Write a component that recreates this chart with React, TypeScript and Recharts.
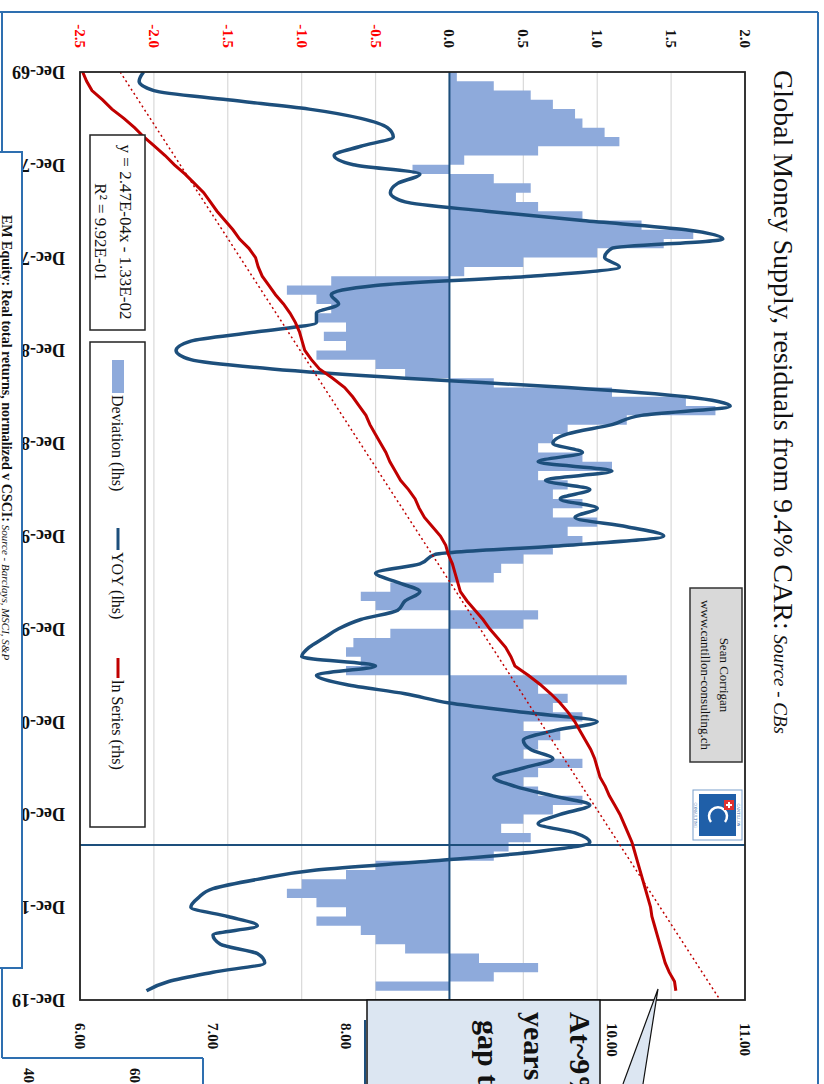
import React from 'react';
import { ComposedChart, Area, Line, XAxis, YAxis, CartesianGrid, ReferenceLine } from 'recharts';

// half-yearly observations, first one at Dec-69
const START = 1969.917;
const STEP = 0.5;
const END = 2019.917;

const yoy = [
  -2.07, -2.1, -2.0, -1.5, -0.95, -0.6, -0.42, -0.38, -0.6, -0.78,
  -0.65, -0.2, -0.35, -0.4, -0.3, 0.25, 0.9, 1.6, 1.85, 1.1,
  1.05, 1.15, 0.55, -0.5, -0.8, -0.75, -0.9, -0.9, -1.3, -1.75,
  -1.85, -1.75, -1.2, -0.3, 0.8, 1.6, 1.9, 1.3, 1.1, 0.8,
  0.7, 0.9, 0.6, 1.1, 0.65, 0.95, 0.75, 1.0, 0.85, 1.2,
  1.45, 0.8, -0.1, -0.2, -0.5, -0.35, -0.2, -0.3, -0.35, -0.6,
  -0.75, -0.85, -0.95, -1.0, -0.5, -0.9, -0.7, -0.3, 0.0, 0.5,
  1.0, 0.7, 0.5, 0.55, 0.7, 0.5, 0.3, 0.45, 0.7, 0.95,
  0.75, 0.6, 0.85, 0.95, 0.6, -0.1, -0.9, -1.3, -1.6, -1.7,
  -1.75, -1.5, -1.3, -1.6, -1.55, -1.3, -1.25, -1.6, -1.9, -2.05,
];

const deviation = [
  0.05, 0.3, 0.55, 0.7, 0.85, 0.9, 1.05, 1.15, 0.6, 0.1,
  -0.25, 0.3, 0.55, 0.45, 0.6, 0.9, 1.3, 1.65, 1.45, 1.0,
  0.5, 0.1, -0.8, -1.1, -0.9, -0.8, -0.9, -0.7, -0.85, -0.7,
  -0.9, -0.5, -0.3, 0.3, 1.1, 1.6, 1.8, 1.2, 0.8, 0.7,
  0.6, 0.9, 1.1, 0.6, 0.8, 0.7, 0.9, 0.7, 1.0, 0.8,
  0.9, 0.7, 0.5, 0.35, 0.3, -0.4, -0.6, -0.5, 0.6, 0.5,
  -0.4, -0.65, -0.7, -0.6, -0.7, 1.2, 0.6, 0.8, 0.7, 0.9,
  0.5, 0.75, 0.6, 0.5, 0.9, 0.6, 0.5, 0.6, 0.9, 0.7,
  0.5, 0.35, 0.55, 0.4, 0.3, -0.5, -0.7, -1.0, -1.1, -0.9,
  -0.7, -0.9, -0.6, -0.5, -0.3, 0.2, 0.6, 0.3, -0.5, -0.85,
];

const lnSeries = [
  6.02, 6.05, 6.09, 6.17, 6.24, 6.33, 6.41, 6.48, 6.56, 6.64,
  6.71, 6.79, 6.86, 6.93, 6.98, 7.03, 7.09, 7.15, 7.2, 7.27,
  7.32, 7.34, 7.37, 7.42, 7.47, 7.53, 7.58, 7.62, 7.65, 7.67,
  7.69, 7.74, 7.8, 7.9, 7.99, 8.05, 8.1, 8.15, 8.18, 8.22,
  8.26, 8.3, 8.33, 8.37, 8.41, 8.47, 8.52, 8.55, 8.59, 8.65,
  8.71, 8.75, 8.77, 8.8, 8.82, 8.84, 8.86, 8.91, 8.97, 9.03,
  9.08, 9.14, 9.2, 9.24, 9.27, 9.37, 9.46, 9.54, 9.61, 9.67,
  9.72, 9.76, 9.8, 9.84, 9.87, 9.89, 9.91, 9.95, 9.98, 10.02,
  10.06, 10.09, 10.12, 10.15, 10.17, 10.19, 10.21, 10.23, 10.25, 10.27,
  10.29, 10.3, 10.32, 10.34, 10.36, 10.38, 10.4, 10.43, 10.47, 10.48,
];

// fitted trend: y = 2.47E-04x - 1.33E-02, x in spreadsheet day numbers (31-Dec-69, 31-Dec-19)
const TREND_SLOPE = 2.47e-4;
const TREND_INTERCEPT = -1.33e-2;
const trendDays = [25568, 43830];

const dateLabels = ['Dec-69', 'Dec-74', 'Dec-79', 'Dec-84', 'Dec-89', 'Dec-94', 'Dec-99', 'Dec-04', 'Dec-09', 'Dec-14', 'Dec-19'];
const lhsTicks = [-2.5, -2.0, -1.5, -1.0, -0.5, 0.0, 0.5, 1.0, 1.5, 2.0];
const rhsTicks = [6, 7, 8, 9, 10, 11];
const MARKER_DATE = 2011.56;

const data: any[] = yoy.map((v, i) => ({ t: START + i * STEP, yoy: v, dev: deviation[i], ln: lnSeries[i] }));
data[0].trend = TREND_SLOPE * trendDays[0] + TREND_INTERCEPT;
data.push({ t: END, trend: TREND_SLOPE * trendDays[1] + TREND_INTERCEPT });

const dateTicks = dateLabels.map((_, i) => START + i * 5);

const FONT = '"Liberation Serif", "Times New Roman", serif';
const NAVY = '#1d4f7c';
const RED = '#c00000';
const BAR = '#8eaadb';
const FRAME = '#2e6fb0';

const DateTick = (props: any) => {
  const { x, y, index } = props;
  return (
    <text x={x} y={y} dy={6} transform={`rotate(90, ${x}, ${y})`} textAnchor="start"
      fontFamily={FONT} fontSize={18} fontWeight="bold" fill="#111">
      {dateLabels[index]}
    </text>
  );
};

const LhsTick = (props: any) => {
  const { x, y, payload } = props;
  const v = payload.value as number;
  return (
    <text x={x} y={y} dy={5} textAnchor="end" fontFamily={FONT} fontSize={15} fontWeight="bold"
      fill={v < 0 ? '#ff0000' : '#111'}>
      {v.toFixed(1)}
    </text>
  );
};

const RhsTick = (props: any) => {
  const { x, y, payload } = props;
  return (
    <text x={x} y={y} dy={5} textAnchor="start" fontFamily={FONT} fontSize={15} fontWeight="bold" fill="#111">
      {(payload.value as number).toFixed(2)}
    </text>
  );
};

const Decorations = () => (
  <svg width={1084} height={824} style={{ position: 'absolute', left: 0, top: 0, pointerEvents: 'none' }}>
    {/* plot border */}
    <rect x={72} y={79} width={928} height={665} fill="none" stroke="#222" strokeWidth={1.8} />

    {/* title */}
    <text x={70} y={50} fontFamily={FONT} fontSize={28} fill="#111">
      Global Money Supply, residuals from 9.4% CAR:
      <tspan fontSize={19} fontStyle="italic"> Source - CBs</tspan>
    </text>

    {/* source box + logo */}
    <rect x={588} y={82} width={174} height={52} fill="#d9d9d9" stroke="#333" strokeWidth={1.5} />
    <text x={675} y={104} textAnchor="middle" fontFamily={FONT} fontSize={13} fill="#111">Sean Corrigan</text>
    <text x={675} y={123} textAnchor="middle" fontFamily={FONT} fontSize={13} fill="#111">www.cantillon-consulting.ch</text>
    <rect x={790} y={82} width={50} height={49} fill="#fff" stroke="#7aa0cc" strokeWidth={1} />
    <rect x={794} y={88} width={42} height={37} fill="#1f5fa8" />
    <path d="M 822 99 A 9 9 0 1 0 822 113" fill="none" stroke="#fff" strokeWidth={2.5} />
    <rect x={800} y={90} width={10} height={10} fill="#e03030" />
    <path d="M 805 92 V 98 M 802 95 H 808" stroke="#fff" strokeWidth={2} />
    <text x={815} y={87} textAnchor="middle" fontFamily={FONT} fontSize={4} fill="#1f5fa8">CANTILLON</text>
    <text x={815} y={130} textAnchor="middle" fontFamily={FONT} fontSize={4} fill="#1f5fa8">CONSULTING</text>

    {/* regression box */}
    <rect x={135} y={679} width={195} height={55} fill="#fff" stroke="#222" strokeWidth={1.5} />
    <text x={232} y={704} textAnchor="middle" fontFamily={FONT} fontSize={17} fill="#111">y = 2.47E-04x - 1.33E-02</text>
    <text x={232} y={729} textAnchor="middle" fontFamily={FONT} fontSize={17} fill="#111">R² = 9.92E-01</text>

    {/* legend */}
    <rect x={342} y={679} width={485} height={55} fill="#fff" stroke="#222" strokeWidth={1.5} />
    <rect x={360} y={700} width={33} height={12} fill={BAR} />
    <text x={395} y={712} fontFamily={FONT} fontSize={16} fill="#111">Deviation (lhs)</text>
    <line x1={528} y1={706} x2={550} y2={706} stroke={NAVY} strokeWidth={3} />
    <text x={552} y={712} fontFamily={FONT} fontSize={16} fill="#111">YOY (lhs)</text>
    <line x1={658} y1={706} x2={678} y2={706} stroke={RED} strokeWidth={3} />
    <text x={680} y={712} fontFamily={FONT} fontSize={16} fill="#111">ln Series (rhs)</text>

    {/* slide frames */}
    <line x1={12} y1={6} x2={12} y2={824} stroke={FRAME} strokeWidth={2} />
    <line x1={12} y1={6} x2={1084} y2={6} stroke={FRAME} strokeWidth={2} />
    <line x1={12} y1={822} x2={152} y2={822} stroke={FRAME} strokeWidth={2} />
    <rect x={152} y={802} width={816} height={30} fill="#fff" stroke={FRAME} strokeWidth={2} />
    <text x={215} y={822} fontFamily={FONT} fontSize={14} fontWeight="bold" fill="#111">
      EM Equity: Real total returns, normalized v CSCI:
      <tspan fontSize={11} fontStyle="italic" fontWeight="normal"> Source - Barclays, MSCI, S&amp;P</tspan>
    </text>
    <line x1={968} y1={822} x2={1058} y2={822} stroke={FRAME} strokeWidth={2} />
    <line x1={1058} y1={621} x2={1058} y2={822} stroke={FRAME} strokeWidth={2} />
    <line x1={1058} y1={621} x2={1084} y2={621} stroke={FRAME} strokeWidth={2} />
    <text x={1068} y={800} fontFamily={FONT} fontSize={15} fontWeight="bold" fill="#111">40</text>
    <text x={1068} y={694} fontFamily={FONT} fontSize={15} fontWeight="bold" fill="#111">60</text>

    {/* callout */}
    <line x1={1020} y1={459} x2={1084} y2={459} stroke={NAVY} strokeWidth={2} />
    <rect x={1000} y={224} width={100} height={233} fill="#dce6f2" stroke="#111" strokeWidth={1.5} />
    <text x={1012} y={254} fontFamily={FONT} fontSize={30} fontWeight="bold" fill="#111">At~9% p.a.</text>
    <text x={1012} y={300} fontFamily={FONT} fontSize={30} fontWeight="bold" fill="#111">years to</text>
    <text x={1020} y={346} fontFamily={FONT} fontSize={30} fontWeight="bold" fill="#111">gap to</text>
    <polygon points="1084,201 989,166 1084,181" fill="#dce6f2" />
    <polyline points="1084,201 989,166 1084,181" fill="none" stroke="#111" strokeWidth={1.2} />
  </svg>
);

const App: React.FC = () => {
  return (
    <div style={{ position: 'absolute', left: 0, top: 0, width: 824, height: 1084, overflow: 'hidden', background: '#fff' }}>
      <div style={{ position: 'absolute', left: 0, top: 0, width: 1084, height: 824, transformOrigin: '0 0', transform: 'translate(824px, 0) rotate(90deg)' }}>
        <ComposedChart width={1084} height={824} data={data} margin={{ top: 79, right: 0, bottom: 0, left: 0 }}>
          <CartesianGrid yAxisId="lhs" vertical={false} stroke="#d9d9d9" strokeWidth={1.2} />
          <XAxis dataKey="t" type="number" domain={[START, END]} ticks={dateTicks} allowDataOverflow
            height={80} axisLine={false} tickLine={false} tickSize={0} tickMargin={15} tick={<DateTick />} interval={0} />
          <YAxis yAxisId="lhs" domain={[-2.5, 2]} ticks={lhsTicks} width={72} axisLine={false} tickLine={false}
            tickSize={0} tickMargin={24} tick={<LhsTick />} interval={0} allowDataOverflow />
          <YAxis yAxisId="rhs" orientation="right" domain={[6, 11]} ticks={rhsTicks} width={84} axisLine={false}
            tickLine={false} tickSize={0} tickMargin={23} tick={<RhsTick />} interval={0} allowDataOverflow />
          <Area yAxisId="lhs" dataKey="dev" type="stepAfter" baseValue={0} fill={BAR} fillOpacity={1} stroke="none" isAnimationActive={false} />
          <ReferenceLine yAxisId="lhs" y={0} stroke={NAVY} strokeWidth={2} />
          <ReferenceLine yAxisId="lhs" x={MARKER_DATE} stroke={NAVY} strokeWidth={2} />
          <Line yAxisId="lhs" dataKey="yoy" type="monotone" stroke={NAVY} strokeWidth={3.5} dot={false} isAnimationActive={false} />
          <Line yAxisId="rhs" dataKey="ln" type="linear" stroke={RED} strokeWidth={3} dot={false} isAnimationActive={false} />
          <Line yAxisId="rhs" dataKey="trend" type="linear" stroke={RED} strokeWidth={1.5} strokeDasharray="2 3" dot={false} connectNulls isAnimationActive={false} />
        </ComposedChart>
        <Decorations />
      </div>
    </div>
  );
};

export default App;
